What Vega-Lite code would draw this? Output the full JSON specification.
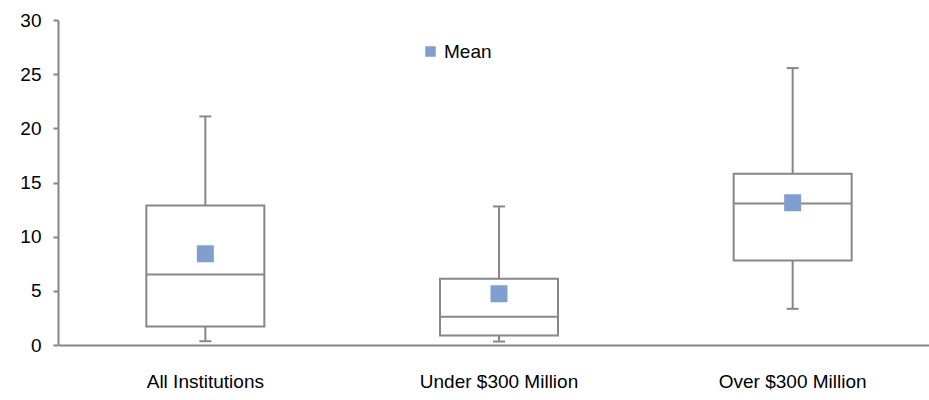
{
  "$schema": "https://vega.github.io/schema/vega-lite/v6.json",
  "width": 871,
  "height": 325,
  "autosize": {"type": "none"},
  "padding": {"left": 58, "top": 20, "right": 0, "bottom": 55},
  "background": "white",
  "config": {
    "view": {"stroke": null},
    "font": "Liberation Sans",
    "axis": {"grid": false, "title": null}
  },
  "data": {
    "values": [
      {"group": "All Institutions", "low": 0.35, "q1": 1.71, "median": 6.51, "q3": 12.88, "high": 21.1, "mean": 8.42},
      {"group": "Under $300 Million", "low": 0.32, "q1": 0.88, "median": 2.6, "q3": 6.11, "high": 12.79, "mean": 4.73},
      {"group": "Over $300 Million", "low": 3.34, "q1": 7.8, "median": 13.07, "q3": 15.81, "high": 25.56, "mean": 13.13}
    ]
  },
  "encoding": {
    "x": {
      "field": "group",
      "type": "nominal",
      "sort": null,
      "scale": {"range": [0.5, 881.5], "paddingInner": 0, "paddingOuter": 0},
      "axis": {
        "labelAngle": 0,
        "domain": true,
        "domainColor": "#868686",
        "domainWidth": 2,
        "ticks": false,
        "labelFontSize": 19,
        "labelColor": "#000000",
        "labelPadding": 27
      }
    }
  },
  "layer": [
    {
      "mark": {"type": "rule", "color": "#878787", "strokeWidth": 2},
      "encoding": {
        "y": {
          "field": "low",
          "type": "quantitative",
          "scale": {"domain": [0, 30], "nice": false},
          "axis": {
            "values": [0, 5, 10, 15, 20, 25, 30],
            "domainColor": "#868686",
            "domainWidth": 2,
            "tickColor": "#868686",
            "tickWidth": 2,
            "tickSize": 5,
            "labelFontSize": 19,
            "labelColor": "#000000",
            "labelPadding": 12
          }
        },
        "y2": {"field": "high"}
      }
    },
    {
      "mark": {"type": "tick", "color": "#878787", "size": 12, "thickness": 2, "opacity": 1},
      "encoding": {"y": {"field": "low", "type": "quantitative"}}
    },
    {
      "mark": {"type": "tick", "color": "#878787", "size": 12, "thickness": 2, "opacity": 1},
      "encoding": {"y": {"field": "high", "type": "quantitative"}}
    },
    {
      "mark": {"type": "bar", "width": 118, "fill": "#ffffff", "stroke": "#878787", "strokeWidth": 2},
      "encoding": {
        "y": {"field": "q1", "type": "quantitative"},
        "y2": {"field": "q3"}
      }
    },
    {
      "mark": {"type": "tick", "color": "#878787", "size": 118, "thickness": 2, "opacity": 1},
      "encoding": {"y": {"field": "median", "type": "quantitative"}}
    },
    {
      "mark": {"type": "square", "size": 289, "opacity": 1, "filled": true},
      "encoding": {
        "y": {"field": "mean", "type": "quantitative"},
        "color": {
          "datum": "Mean",
          "scale": {"range": ["#809ECE"]},
          "legend": {
            "orient": "none",
            "legendX": 363,
            "legendY": 22,
            "title": null,
            "padding": 0,
            "symbolType": "square",
            "symbolSize": 110,
            "symbolStrokeWidth": 0,
            "labelFontSize": 19,
            "labelColor": "#000000",
            "labelOffset": 4
          }
        }
      }
    }
  ]
}
